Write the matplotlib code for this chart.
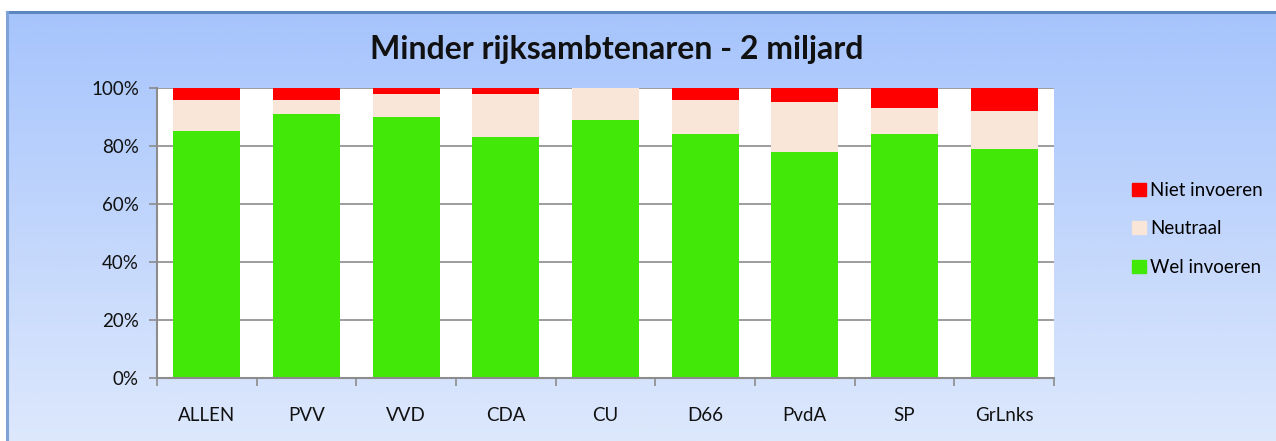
import matplotlib
matplotlib.use("Agg")
import matplotlib.pyplot as plt
import numpy as np
from matplotlib.patches import Patch
from matplotlib.lines import Line2D

categories = ["ALLEN", "PVV", "VVD", "CDA", "CU", "D66", "PvdA", "SP", "GrLnks"]
wel = [85, 91, 90, 83, 89, 84, 78, 84, 79]
neutraal = [11, 5, 8, 15, 11, 12, 17, 9, 13]
niet = [4, 4, 2, 2, 0, 4, 5, 7, 8]
yticks = [0, 20, 40, 60, 80, 100]
ytick_labels = ["0%", "20%", "40%", "60%", "80%", "100%"]

plt.rcParams['font.family'] = ['Lato', 'DejaVu Sans']

W, H = 1276, 441
fig = plt.figure(figsize=(W / 100, H / 100), dpi=100)
fig.patch.set_facecolor("white")

# background gradient panel
bx0, by_top = 7, 12
bg = fig.add_axes([bx0 / W, 0, 1 - bx0 / W, (H - by_top) / H])
grad = np.linspace(0, 1, 256).reshape(-1, 1)
top = np.array([0xa6, 0xc4, 0xfc]) / 255
bot = np.array([0xdd, 0xe8, 0xfc]) / 255
img = top[None, None, :] * (1 - grad[:, :, None]) + bot[None, None, :] * grad[:, :, None]
bg.imshow(img, aspect="auto", extent=[0, 1, 0, 1])
bg.set_xlim(0, 1)
bg.set_ylim(0, 1)
bg.axis("off")
fig.add_artist(Line2D([bx0 / W, 1], [1 - by_top / H, 1 - by_top / H], color="#5b86c0", lw=2.2))
fig.add_artist(Line2D([bx0 / W, bx0 / W], [0, 1 - by_top / H], color="#7fa3d6", lw=2.2))

# plot area
px0, px1, py0, py1 = 157, 1054, 88, 378
ax = fig.add_axes([px0 / W, 1 - py1 / H, (px1 - px0) / W, (py1 - py0) / H])
ax.set_facecolor("white")
x = np.arange(len(categories))
green = "#41e808"
beige = "#fae6d8"
red = "#ff0000"
wel_a = np.array(wel)
neu_a = np.array(neutraal)
niet_a = np.array(niet)
bw = 0.67
ax.bar(x, wel_a, bw, color=green, linewidth=0, zorder=3, label="Wel invoeren")
ax.bar(x, neu_a, bw, bottom=wel_a, color=beige, linewidth=0, zorder=3, label="Neutraal")
ax.bar(x, niet_a, bw, bottom=wel_a + neu_a, color=red, linewidth=0, zorder=3, label="Niet invoeren")

ax.set_xlim(-0.5, len(categories) - 0.5)
ax.set_ylim(0, 100)
ax.set_yticks(yticks)
ax.set_yticklabels(ytick_labels, fontsize=13.5, color="#111111")
ax.yaxis.grid(True, color="#8c8c8c", linewidth=1.2, zorder=0)
ax.set_xticks(np.arange(-0.5, len(categories), 1.0))
ax.set_xticklabels([])
ax.set_xticks(x, minor=True)
ax.set_xticklabels(categories, minor=True, fontsize=13.5, color="#111111")
ax.tick_params(axis="x", which="major", length=6, color="#8c8c8c", width=1.2, direction="out")
ax.tick_params(axis="x", which="minor", length=0, pad=21)
ax.tick_params(axis="y", length=6, color="#8c8c8c", width=1.2, pad=7)
for s in ["top", "right"]:
    ax.spines[s].set_visible(False)
for s in ["left", "bottom"]:
    ax.spines[s].set_color("#8c8c8c")
    ax.spines[s].set_linewidth(1.5)
    ax.spines[s].set_zorder(4)

fig.text(617 / W, 1 - 50 / H, "Minder rijksambtenaren - 2 miljard", ha="center", va="center",
         fontsize=23, fontweight="bold", color="#111111")

handles = [Patch(facecolor=red, edgecolor=red), Patch(facecolor=beige, edgecolor=beige),
           Patch(facecolor=green, edgecolor=green)]
labels = ["Niet invoeren", "Neutraal", "Wel invoeren"]
fig.legend(handles, labels, loc="center left", bbox_to_anchor=(1123 / W, 1 - 229 / H),
           frameon=False, fontsize=13.5, handlelength=0.7, handleheight=0.7,
           handletextpad=0.25, labelspacing=1.15, borderpad=0)

fig.savefig("out.png", dpi=100, facecolor="white")
